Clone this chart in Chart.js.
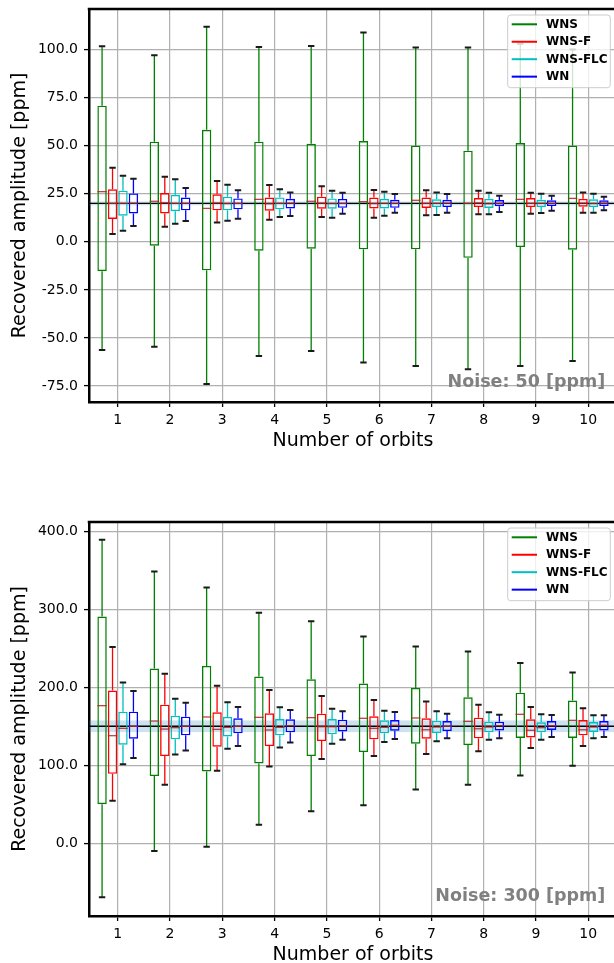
<!DOCTYPE html>
<html>
<head>
<meta charset="utf-8">
<script src="https://cdn.jsdelivr.net/npm/chart.js@4.4.1/dist/chart.umd.min.js"></script>
<style>
  html, body { margin: 0; padding: 0; background: #fff; overflow: hidden; width: 614px; height: 963px; }
  #wrap { position: relative; width: 614px; height: 963px; overflow: hidden; }
  #c50 { position: absolute; left: 0; top: -10px; }
  #c300 { position: absolute; left: 0; top: 469px; }
</style>
</head>
<body>
<div id="wrap">
  <canvas id="c50" width="620" height="479"></canvas>
  <canvas id="c300" width="620" height="514"></canvas>
</div>
<script>
// Box plots of recovered amplitude vs number of orbits, two noise levels.
// Each entry: [whisker low, Q1, median, Q3, whisker high]

const orbits = [1, 2, 3, 4, 5, 6, 7, 8, 9, 10];
const seriesNames = ['WNS', 'WNS-F', 'WNS-FLC', 'WN'];
const seriesColors = ['#008000', '#ff0000', '#00bfbf', '#0000ff'];

const yTicks50 = [-75, -50, -25, 0, 25, 50, 75, 100];
const yTicks300 = [0, 100, 200, 300, 400];

// Noise: 50 ppm (true amplitude 20)
const wns50 = [
  [-56.3, -15.3, 26.1, 70.8, 101.7], [-54.5, -2.0, 21.1, 52.1, 97.0], [-73.9, -14.8, 17.4, 58.3, 111.9],
  [-59.4, -4.6, 22.1, 52.1, 101.3], [-56.8, -3.6, 21.1, 51.0, 101.8], [-62.7, -3.9, 20.9, 52.4, 108.9],
  [-64.6, -3.9, 21.6, 50.0, 101.1], [-66.3, -8.3, 20.0, 47.4, 101.1], [-64.6, -2.7, 22.1, 51.4, 103.0],
  [-62.0, -4.1, 22.6, 50.0, 100.0]
];
const wnsF50 = [
  [4.1, 11.9, 20.0, 27.3, 38.5], [7.9, 14.8, 20.3, 25.4, 33.9], [10.1, 16.4, 20.2, 24.7, 31.6],
  [11.5, 16.2, 19.8, 23.0, 29.5], [12.9, 17.2, 20.1, 23.5, 28.9], [12.5, 17.4, 19.9, 23.0, 26.9],
  [13.8, 17.6, 20.0, 23.0, 26.8], [14.3, 18.1, 20.2, 22.8, 26.6], [14.6, 18.1, 20.0, 22.8, 25.5],
  [15.1, 18.3, 20.1, 22.4, 25.7]
];
const wnsFlc50 = [
  [5.8, 13.6, 20.0, 26.6, 34.4], [9.4, 15.9, 20.0, 24.5, 32.5], [11.0, 16.4, 19.9, 23.5, 29.7],
  [12.9, 16.9, 20.0, 23.1, 27.3], [12.5, 17.2, 19.9, 22.6, 26.6], [13.6, 17.4, 20.0, 22.4, 26.1],
  [13.9, 18.1, 20.0, 22.1, 25.7], [14.3, 17.6, 19.8, 22.4, 25.5], [15.0, 18.1, 20.0, 21.9, 25.0],
  [15.1, 18.1, 19.9, 22.1, 25.0]
];
const wn50 = [
  [8.2, 14.8, 20.1, 25.2, 32.8], [10.8, 16.4, 20.0, 23.0, 28.0], [12.0, 16.9, 20.0, 22.6, 26.8],
  [13.4, 17.4, 20.1, 22.4, 25.7], [14.6, 17.7, 20.0, 22.3, 25.5], [15.1, 17.7, 20.0, 21.9, 24.9],
  [15.1, 18.1, 20.1, 21.9, 24.9], [15.5, 18.5, 20.0, 21.7, 24.0], [16.2, 18.6, 20.0, 21.6, 24.0],
  [16.4, 18.6, 20.1, 21.6, 23.5]
];

// Noise: 300 ppm (true amplitude 150)
const wns300 = [
  [-69.4, 50.1, 176.4, 290.8, 389.3], [-9.9, 86.1, 156.7, 224.0, 348.6], [-4.7, 92.0, 161.9, 227.4, 328.0],
  [23.5, 102.3, 161.4, 213.7, 295.5], [41.1, 111.8, 161.0, 210.3, 284.8], [48.8, 116.9, 160.2, 204.7, 265.1],
  [68.9, 127.6, 160.6, 199.1, 252.2], [74.9, 125.9, 156.3, 187.1, 245.8], [86.9, 134.9, 165.3, 193.1, 231.2],
  [99.3, 134.9, 157.6, 182.9, 218.8]
];
const wnsF300 = [
  [54.4, 89.0, 137.9, 195.7, 251.8], [74.9, 111.8, 146.4, 177.7, 217.5], [92.9, 123.7, 146.0, 167.9, 202.1],
  [98.5, 124.6, 145.2, 166.6, 196.6], [107.9, 131.0, 149.4, 166.1, 188.8], [111.8, 133.2, 147.3, 162.7, 183.7],
  [114.3, 134.0, 145.5, 160.2, 181.6], [117.8, 134.5, 146.8, 161.0, 177.7], [122.0, 135.7, 144.8, 158.9, 174.7],
  [124.6, 138.3, 145.5, 158.0, 173.0]
];
const wnsFlc300 = [
  [101.1, 126.3, 147.3, 168.7, 206.0], [113.9, 133.2, 148.2, 163.6, 185.4], [121.2, 137.0, 148.6, 161.9, 180.7],
  [122.9, 138.3, 148.6, 159.3, 174.3], [127.6, 139.6, 149.4, 159.3, 172.6], [129.8, 140.9, 148.6, 157.6, 170.0],
  [130.6, 141.3, 149.0, 157.2, 169.1], [132.7, 142.2, 149.0, 155.9, 167.9], [132.7, 142.2, 148.2, 155.0, 165.3],
  [134.5, 142.6, 149.0, 155.4, 164.0]
];
const wn300 = [
  [109.2, 134.0, 149.9, 168.7, 195.3], [119.0, 138.3, 149.9, 162.3, 180.3], [124.6, 140.9, 149.9, 160.2, 174.7],
  [129.3, 142.2, 150.8, 158.9, 170.9], [132.7, 143.4, 150.7, 158.4, 169.1], [133.6, 144.3, 151.2, 158.0, 168.3],
  [134.5, 143.8, 149.9, 156.7, 166.1], [134.5, 144.7, 150.7, 155.9, 164.9], [136.2, 145.2, 150.7, 156.7, 164.4],
  [136.2, 144.7, 151.2, 156.7, 164.0]
];

// layout constants (not data)
const slotOffsets = [-0.3, -0.1, 0.1, 0.3];
const FONT = '"DejaVu Sans", "Liberation Sans", sans-serif';
Chart.defaults.font.family = FONT;
Chart.defaults.color = '#000';

// Draws the truth band/line, whiskers, caps, medians, legend and noise label
function boxExtras(p){
  return {
    id: 'boxExtras',
    beforeDatasetsDraw(chart){
      const {ctx, chartArea: a, scales: {y}} = chart;
      ctx.save();
      const yt = y.getPixelForValue(p.band[1]);
      const yb = y.getPixelForValue(p.band[0]);
      ctx.fillStyle = 'rgba(31,119,180,0.22)';
      ctx.fillRect(a.left, yt, a.right - a.left, yb - yt);
      const y0 = y.getPixelForValue(p.truth);
      ctx.strokeStyle = '#000';
      ctx.lineWidth = 1.3;
      ctx.beginPath(); ctx.moveTo(a.left, y0); ctx.lineTo(a.right, y0); ctx.stroke();
      ctx.restore();
    },
    afterDatasetsDraw(chart){
      const {ctx, scales: {y}} = chart;
      ctx.save();
      chart.data.datasets.forEach((ds, k) => {
        const bars = chart.getDatasetMeta(k).data;
        ds.stats.forEach((s, i) => {
          const cx = bars[i].x, half = bars[i].width / 2;
          const [lo, q1, med, q3, hi] = s.map(v => y.getPixelForValue(v));
          // whiskers
          ctx.strokeStyle = ds.borderColor;
          ctx.lineWidth = 1.3;
          ctx.beginPath();
          ctx.moveTo(cx, q3); ctx.lineTo(cx, hi);
          ctx.moveTo(cx, q1); ctx.lineTo(cx, lo);
          ctx.stroke();
          // caps
          const cw = half * 0.68;
          ctx.strokeStyle = '#1a1a1a';
          ctx.lineWidth = 2;
          ctx.beginPath();
          ctx.moveTo(cx - cw, hi); ctx.lineTo(cx + cw, hi);
          ctx.moveTo(cx - cw, lo); ctx.lineTo(cx + cw, lo);
          ctx.stroke();
          // median
          ctx.strokeStyle = 'rgba(178,34,34,0.85)';
          ctx.lineWidth = 1.3;
          ctx.beginPath(); ctx.moveTo(cx - half, med); ctx.lineTo(cx + half, med); ctx.stroke();
        });
      });
      ctx.restore();
    },
    afterDraw(chart){
      const {ctx, chartArea: a} = chart;
      ctx.save();
      // top spine
      ctx.strokeStyle = '#000';
      ctx.lineWidth = 2.5;
      ctx.beginPath(); ctx.moveTo(a.left - 1.25, a.top); ctx.lineTo(a.right, a.top); ctx.stroke();

      // noise label
      ctx.font = 'bold 17.5px ' + FONT;
      ctx.fillStyle = '#808080';
      ctx.textAlign = 'right';
      ctx.textBaseline = 'middle';
      ctx.fillText(p.noise, a.right - 11.7, a.bottom - 19.6);

      // legend
      const lw = 102.6, lh = 72.7;
      const lx = a.right - 6.7 - lw, ly = a.top + 6;
      ctx.fillStyle = 'rgba(255,255,255,0.8)';
      ctx.strokeStyle = '#cccccc';
      ctx.lineWidth = 1;
      ctx.beginPath();
      if (ctx.roundRect) ctx.roundRect(lx, ly, lw, lh, 3); else ctx.rect(lx, ly, lw, lh);
      ctx.fill(); ctx.stroke();
      ctx.font = 'bold 12px ' + FONT;
      ctx.textAlign = 'left';
      seriesNames.forEach((name, k) => {
        const ry = ly + 9.3 + k * 17.45;
        ctx.strokeStyle = seriesColors[k];
        ctx.lineWidth = 2;
        ctx.beginPath(); ctx.moveTo(lx + 4, ry); ctx.lineTo(lx + 29.3, ry); ctx.stroke();
        ctx.fillStyle = '#000';
        ctx.fillText(name, lx + 38.3, ry + 0.5);
      });
      ctx.restore();
    }
  };
}

function makePanel(id, stats, p){
  const datasets = seriesNames.map((name, k) => ({
    label: name,
    data: stats[k].map((s, i) => ({x: orbits[i] + slotOffsets[k], y: [s[1], s[3]]})),
    stats: stats[k],
    borderColor: seriesColors[k],
    backgroundColor: 'rgba(0,0,0,0)',
    borderWidth: 1.4,
    borderSkipped: false,
    grouped: false,
    categoryPercentage: 1,
    barPercentage: 0.9
  }));

  const grid = {
    offset: false, color: '#b0b0b0', lineWidth: 1.2,
    drawTicks: true, tickLength: 5, tickColor: '#000', tickWidth: 1.3
  };
  const border = { display: true, color: '#000', width: 2.5 };

  return new Chart(document.getElementById(id), {
    type: 'bar',
    data: { datasets },
    plugins: [boxExtras(p)],
    options: {
      responsive: false,
      animation: false,
      events: [],
      layout: { padding: { top: p.padTop, right: 3, left: 0, bottom: 0 } },
      plugins: { legend: { display: false }, tooltip: { enabled: false } },
      scales: {
        x: {
          type: 'linear', min: 0.45, max: 10.55, offset: false,
          afterBuildTicks: s => { s.ticks = orbits.map(v => ({value: v})); },
          afterFit: s => { s.height = 67; },
          grid, border,
          ticks: { padding: 5, font: { size: 14 }, color: '#000', maxRotation: 0, autoSkip: false, callback: v => String(v) },
          title: { display: true, text: 'Number of orbits', font: { size: 19 }, color: '#000', padding: { top: 0, bottom: 17 } }
        },
        y: {
          type: 'linear', min: p.yMin, max: p.yMax,
          afterBuildTicks: s => { s.ticks = p.yTicks.map(v => ({value: v})); },
          afterFit: s => { s.width = 89; },
          grid, border,
          ticks: { padding: 6, font: { size: 14 }, color: '#000', callback: v => Number(v).toFixed(1) },
          title: { display: true, text: 'Recovered amplitude [ppm]', font: { size: 19 }, color: '#000', padding: { top: 9, bottom: 0 } }
        }
      }
    }
  });
}

makePanel('c50', [wns50, wnsF50, wnsFlc50, wn50], {
  padTop: 19, yMin: -83.3, yMax: 121.1, yTicks: yTicks50,
  truth: 20, band: [19, 21], noise: 'Noise: 50 [ppm]'
});
makePanel('c300', [wns300, wnsF300, wnsFlc300, wn300], {
  padTop: 53, yMin: -93.4, yMax: 412.0, yTicks: yTicks300,
  truth: 150, band: [142.5, 157.5], noise: 'Noise: 300 [ppm]'
});
</script>
</body>
</html>
